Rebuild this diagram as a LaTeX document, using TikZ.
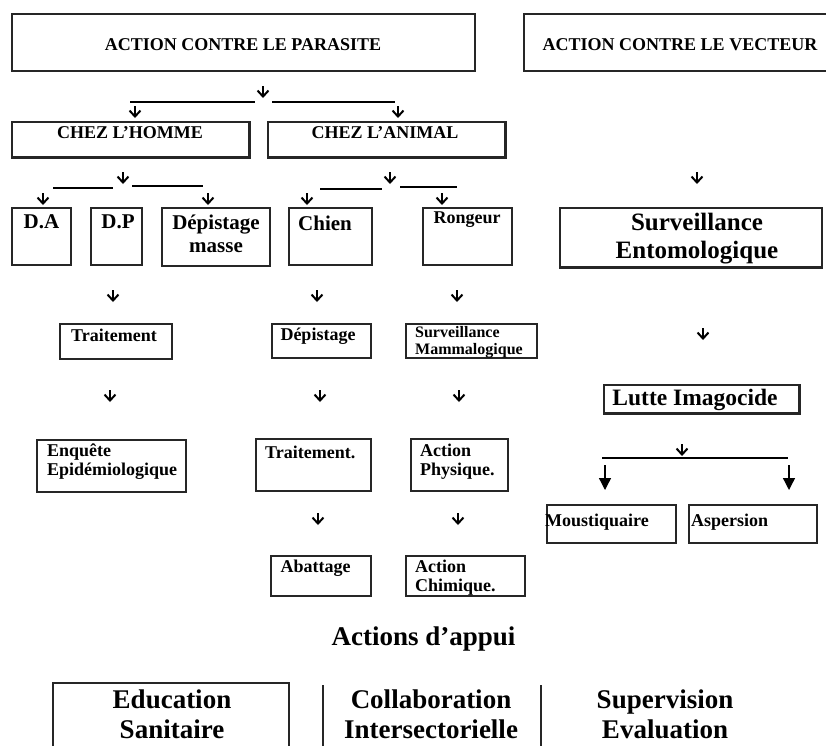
\documentclass[tikz,border=0pt]{standalone}
\usepackage{fontspec}
\setmainfont{Liberation Serif}
\usetikzlibrary{arrows.meta}

\tikzset{
  box/.style={draw=black!85,line width=1.2pt,rectangle,inner sep=0pt},
  heavy/.style={draw=black!85,line width=3pt},
  arr/.style={line width=2pt,-{Straight Barb[length=6pt,width=11pt]}},
  farr/.style={line width=1.3pt,-{Triangle[length=12pt,width=12pt]}},
  hdr/.style={inner sep=0pt,font=\fontsize{18}{20}\selectfont\bfseries},
  big/.style={inner sep=0pt,font=\fontsize{21}{23}\selectfont\bfseries},
  txt/.style={inner sep=0pt,font=\fontsize{18}{19}\selectfont\bfseries},
  small/.style={inner sep=0pt,font=\fontsize{16}{17}\selectfont\bfseries},
  ttl/.style={inner sep=0pt,font=\fontsize{25}{28}\selectfont\bfseries},
  lut/.style={inner sep=0pt,font=\fontsize{23.5}{26}\selectfont\bfseries},
  appui/.style={inner sep=0pt,font=\fontsize{27}{30}\selectfont\bfseries}
}

\begin{document}
\begin{tikzpicture}[x=1pt,y=-1pt]
        \useasboundingbox (0,0) rectangle (826,745);
        %% Boxes
        \node[box,minimum width=463pt,minimum height=57pt] (parasite) at (243.5,42.5) {};
        \node[box,minimum width=303pt,minimum height=57pt] (vecteur) at (675.5,42.5) {};
        \node[box,minimum width=237pt,minimum height=35pt] (homme) at (130.5,139.5) {};
        \node[box,minimum width=237pt,minimum height=35pt] (animal) at (386.5,139.5) {};
        \node[box,minimum width=59pt,minimum height=57pt] (da) at (41.5,236.5) {};
        \node[box,minimum width=51pt,minimum height=57pt] (dp) at (116.5,236.5) {};
        \node[box,minimum width=108pt,minimum height=58pt] (depmasse) at (216,237) {};
        \node[box,minimum width=83pt,minimum height=57pt] (chien) at (330.5,236.5) {};
        \node[box,minimum width=89pt,minimum height=57pt] (rongeur) at (467.5,236.5) {};
        \node[box,minimum width=262pt,minimum height=59pt] (entomo) at (691,237.5) {};
        \node[box,minimum width=112pt,minimum height=35pt] (traitH) at (116,341.5) {};
        \node[box,minimum width=99pt,minimum height=34pt] (depist) at (321.5,341) {};
        \node[box,minimum width=131pt,minimum height=34pt] (mamma) at (471.5,341) {};
        \node[box,minimum width=195pt,minimum height=28pt] (lutte) at (701.5,399) {};
        \node[box,minimum width=149pt,minimum height=52pt] (enquete) at (111.5,466) {};
        \node[box,minimum width=115pt,minimum height=52pt] (traitC) at (313.5,465) {};
        \node[box,minimum width=97pt,minimum height=52pt] (physique) at (459.5,465) {};
        \node[box,minimum width=129pt,minimum height=38pt] (moustiq) at (611.5,524) {};
        \node[box,minimum width=128pt,minimum height=38pt] (aspersion) at (753,524) {};
        \node[box,minimum width=100pt,minimum height=40pt] (abattage) at (321,576) {};
        \node[box,minimum width=119pt,minimum height=40pt] (chimique) at (465.5,576) {};
        \node[box,minimum width=236pt,minimum height=80pt] (education) at (171,723) {};
        %% Heavy edges
        \draw[heavy] (homme.north east) -- (homme.south east) -- (homme.south west);
        \draw[heavy] (animal.north east) -- (animal.south east) -- (animal.south west);
        \draw[heavy] (entomo.south east) -- (entomo.south west);
        \draw[heavy] (lutte.north east) -- (lutte.south east) -- (lutte.south west);
        %% Separators
        \coordinate (sep1) at (323,685);
        \coordinate (sep2) at (541,685);
        \draw[draw=black!85,line width=1.2pt] (sep1) -- ++(0,62);
        \draw[draw=black!85,line width=1.2pt] (sep2) -- ++(0,62);
        %% Texts
        \node[hdr] (parasite-t) at (243,45) {ACTION CONTRE LE PARASITE};
        \node[hdr] (vecteur-t) at (680,45) {ACTION CONTRE LE VECTEUR};
        \node[hdr] (homme-t) at (130,133) {CHEZ L'HOMME};
        \node[hdr] (animal-t) at (385,133) {CHEZ L'ANIMAL};
        \node[big] (da-t) at (41.5,222) {D.A};
        \node[big] (dp-t) at (118,222) {D.P};
        \node[big,align=center] (depmasse-t) at (216,234) {Dépistage\\masse};
        \node[big] (chien-t) at (325,223) {Chien};
        \node[txt] (rongeur-t) at (467,220) {Rongeur};
        \node[ttl,align=center] (entomo-t) at (697,239) {Surveillance\\Entomologique};
        \node[txt] (traitH-t) at (114,335) {Traitement};
        \node[txt] (depist-t) at (318,336) {Dépistage};
        \node[small,align=left,anchor=west] (mamma-t) at (415,342.5) {Surveillance\\Mammalogique};
        \node[lut] (lutte-t) at (695,400) {Lutte Imagocide};
        \node[txt,align=left,anchor=west] (enquete-t) at (47,461.5) {Enquête\\Epidémiologique};
        \node[txt,anchor=west] (traitC-t) at (265,452) {Traitement.};
        \node[txt,align=left,anchor=west] (physique-t) at (420,461.5) {Action\\Physique.};
        \node[txt,anchor=west] (moustiq-t) at (545,522) {Moustiquaire};
        \node[txt,anchor=west] (aspersion-t) at (691,522) {Aspersion};
        \node[txt] (abattage-t) at (315.5,568) {Abattage};
        \node[txt,align=left,anchor=west] (chimique-t) at (415,577.5) {Action\\Chimique.};
        \node[appui] (appui) at (423.5,639) {Actions d'appui};
        \node[appui,align=center] (education-t) at (172,714) {Education\\Sanitaire};
        \node[appui,align=center] (collab-t) at (431,714) {Collaboration\\Intersectorielle};
        \node[appui,align=center] (superv-t) at (665,714) {Supervision\\Evaluation};
        %% Branch lines
        \draw[line width=1.5pt] (130,102) -- (255,102);
        \draw[line width=1.5pt] (272,102) -- (395,102);
        \draw[line width=1.5pt] (53,188) -- (113,188);
        \draw[line width=1.5pt] (132,186) -- (203,186);
        \draw[line width=1.5pt] (320,189) -- (382,189);
        \draw[line width=1.5pt] (400,187) -- (457,187);
        \draw[line width=1.5pt] (602,458) -- (788,458);
        %% Small arrows
        \foreach \x/\y [count=\i] in {263/86,135/106,398/106,123/172,43/193,208/193,
            390/172,307/193,442/193,697/172,113/290,317/290,457/290,703/328,
            110/390,320/390,459/390,682/444,318/513,458/513}
        {
            \coordinate (ar-\i) at (\x,\y);
            \draw[arr] (ar-\i) -- ++(0,12);
        }
        %% Filled arrows
        \coordinate (fa-l) at (605,465);
        \coordinate (fa-r) at (789,465);
        \draw[farr] (fa-l) -- ++(0,25);
        \draw[farr] (fa-r) -- ++(0,25);
    \end{tikzpicture}
\end{document}
